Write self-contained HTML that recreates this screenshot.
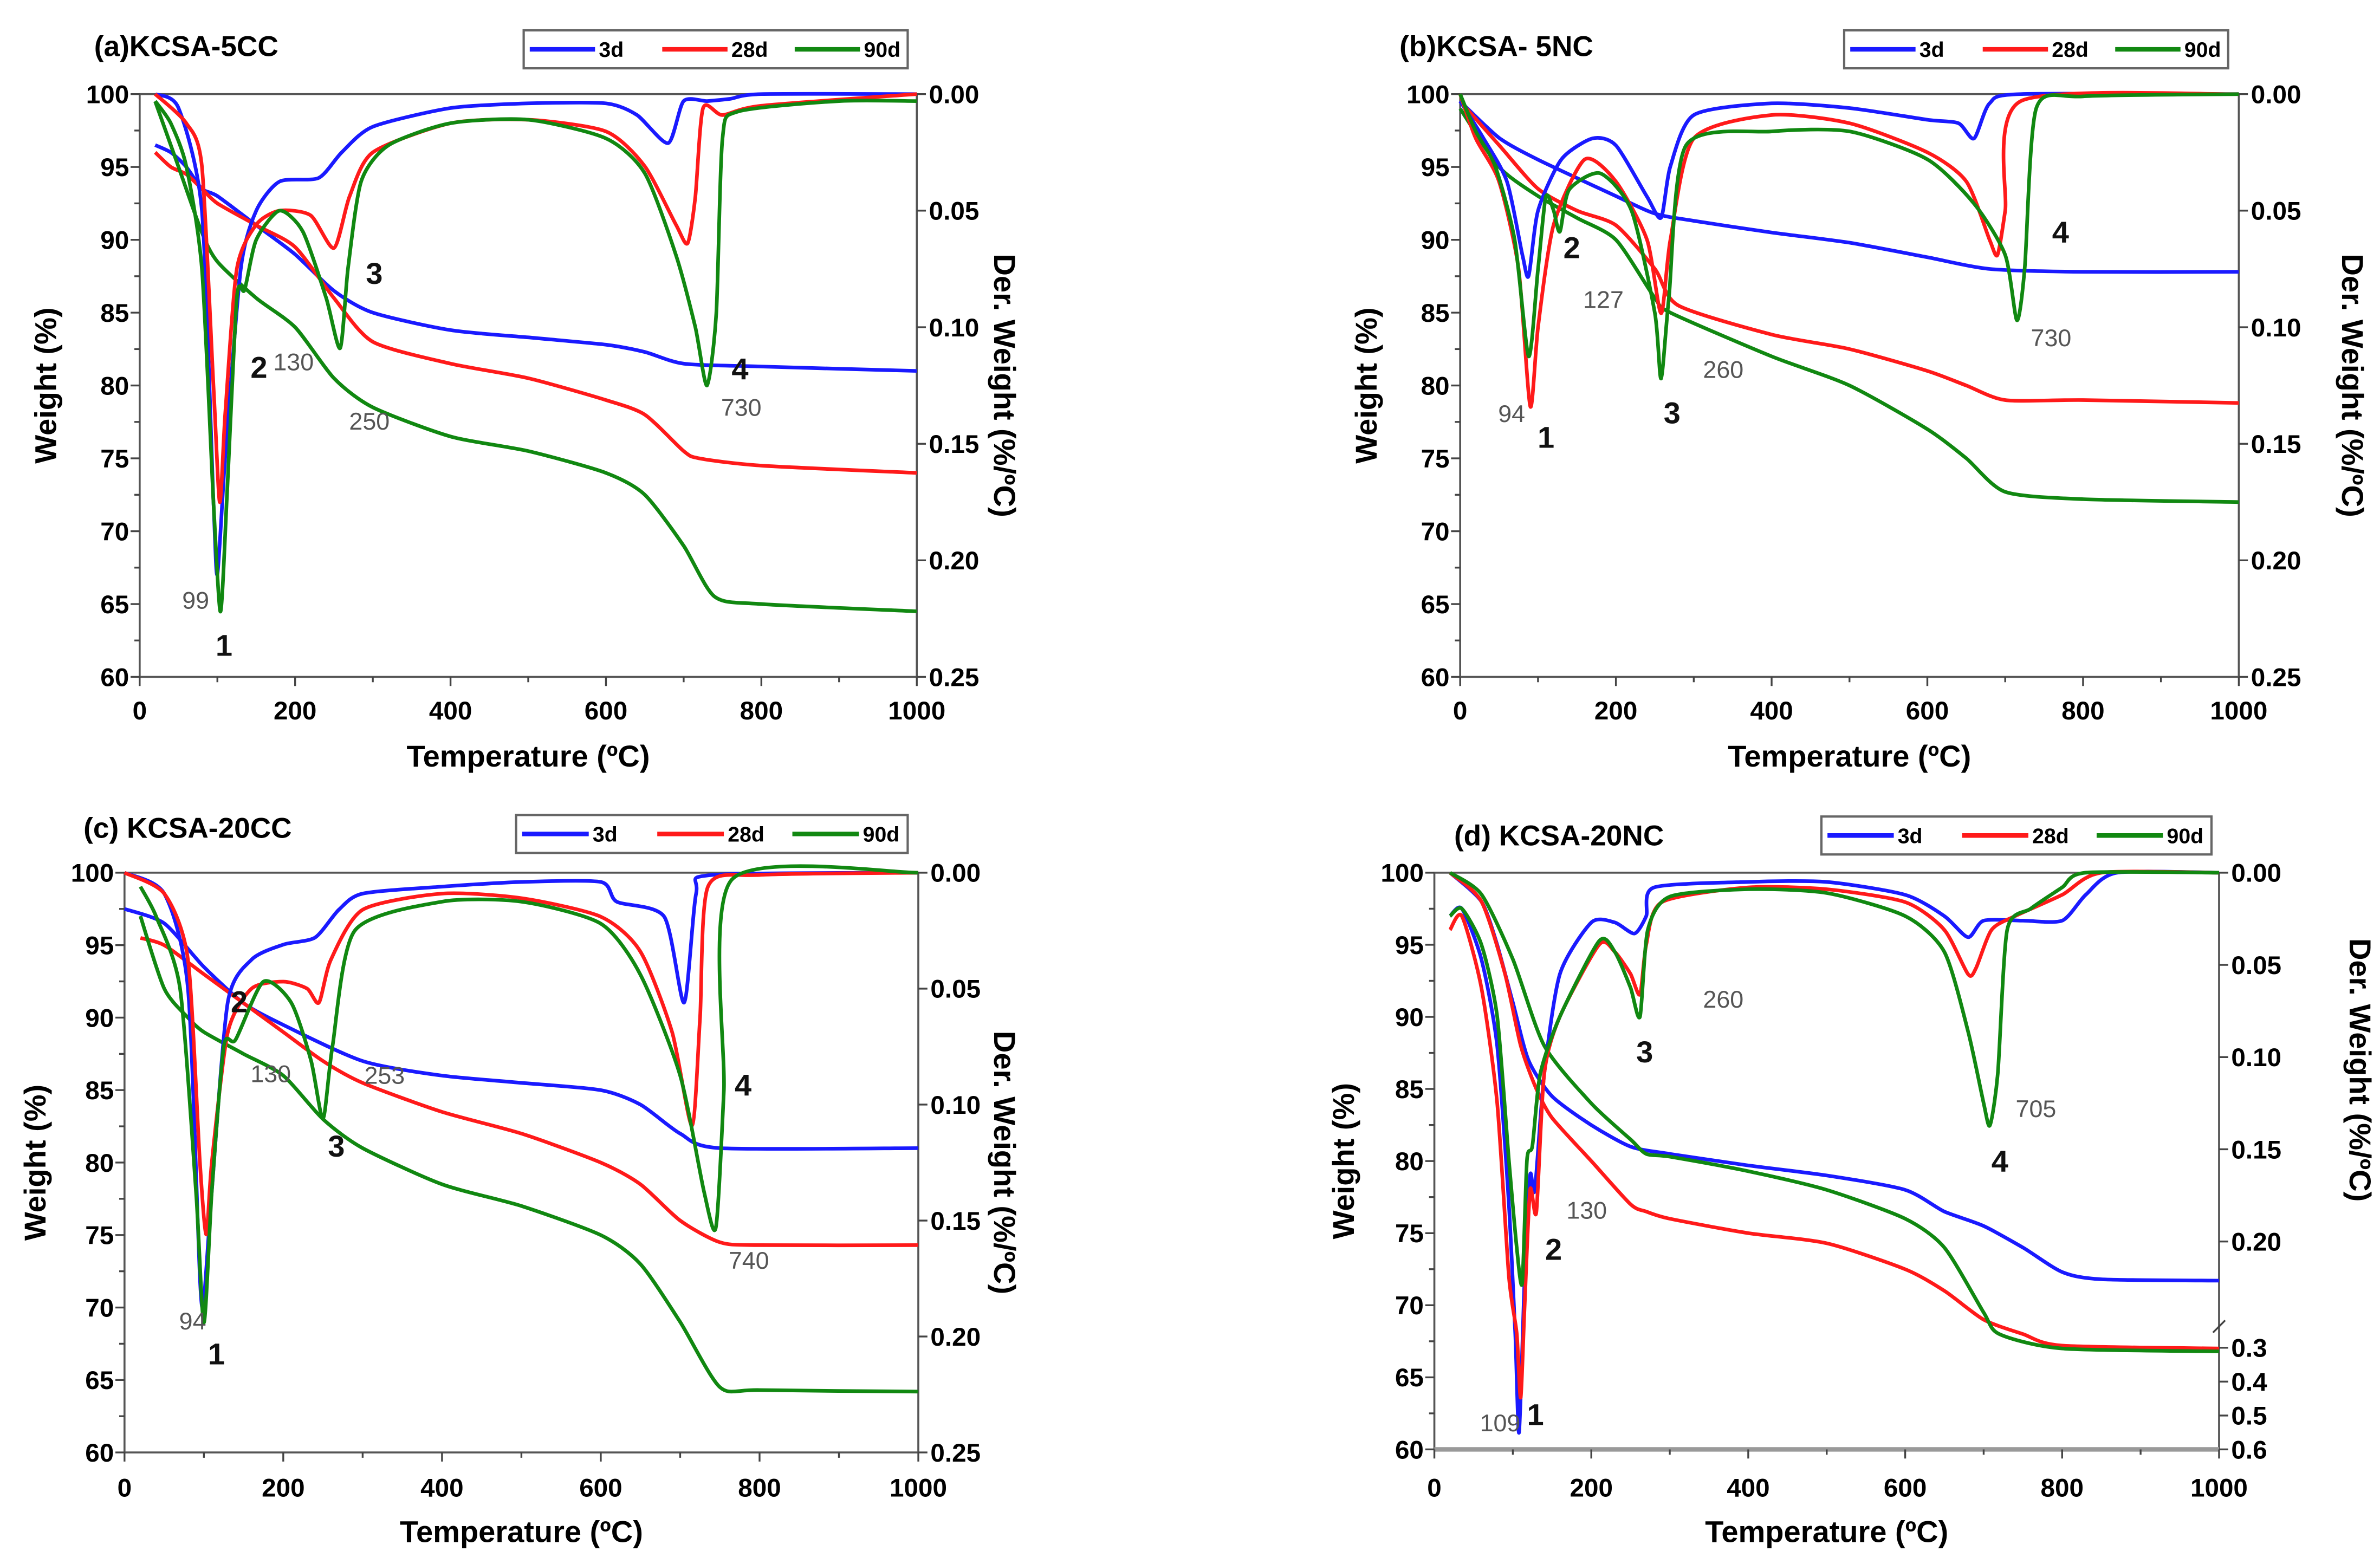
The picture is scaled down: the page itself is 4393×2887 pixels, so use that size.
<!DOCTYPE html>
<html><head><meta charset="utf-8">
<style>
html,body{margin:0;padding:0;background:#fff;}
svg{display:block;}
text{font-family:"Liberation Sans",Arial,sans-serif;}
</style></head>
<body>
<svg id="fig" width="4393" height="2887" viewBox="0 0 1568 1030.5" xmlns="http://www.w3.org/2000/svg"></svg>
<script>
// ---------- DATA (temperature °C, weight %, derivative weight %/°C) ----------
const seriesNames = ["3d","28d","90d"];
// Panel a: KCSA-5CC
const aT_tg3 = [20,40,60,80,100,150,200,250,300,400,500,600,650,700,800,1000];
const aW_tg3 = [96.5,96,95,93.5,93,91,89,86.5,85,83.8,83.3,82.8,82.3,81.5,81.3,81];
const aT_tg28 = [20,40,60,80,100,150,200,250,300,400,500,600,650,700,720,800,1000];
const aW_tg28 = [96,95,94.5,93.5,92.5,91,89.5,86,83,81.5,80.5,79,78,75.5,75,74.5,74];
const aT_tg90 = [20,50,80,100,150,200,250,300,400,500,600,650,700,740,800,1000];
const aW_tg90 = [99.5,95,90.5,88.5,86,84,80.5,78.5,76.5,75.5,74,72.5,69,65.5,65,64.5];
const aT_d3 = [20,50,80,95,100,110,130,150,180,230,260,300,400,500,600,640,680,700,730,760,800,1000];
const aD_d3 = [0,0.006,0.05,0.175,0.206,0.156,0.075,0.05,0.0375,0.036,0.025,0.014,0.006,0.004,0.004,0.009,0.021,0.003,0.003,0.002,0,0];
const aT_d28 = [20,60,80,95,103,110,125,150,180,220,250,270,300,400,500,600,650,690,705,715,725,750,800,1000];
const aD_d28 = [0,0.0125,0.031,0.125,0.175,0.1375,0.075,0.056,0.05,0.052,0.066,0.044,0.025,0.0125,0.011,0.016,0.031,0.056,0.064,0.044,0.006,0.009,0.005,0];
const aT_d90 = [20,40,60,80,95,104,112,125,135,150,180,210,240,258,268,285,320,400,500,600,650,690,715,730,742,750,770,900,1000];
const aD_d90 = [0.003,0.0125,0.031,0.075,0.175,0.222,0.175,0.0875,0.084,0.0625,0.05,0.059,0.0875,0.109,0.075,0.0375,0.022,0.0125,0.011,0.019,0.034,0.069,0.1,0.125,0.094,0.019,0.0075,0.003,0.003];
// Panel b: KCSA-5NC
const bT_tg3 = [0,50,100,200,250,300,400,500,600,680,800,1000];
const bW_tg3 = [99.5,97,95.5,93,91.8,91.3,90.5,89.8,88.8,88,87.8,87.8];
const bT_tg28 = [0,50,100,150,200,250,280,400,500,600,650,700,800,1000];
const bW_tg28 = [99.5,96.5,93.5,92,91,88,85.5,83.5,82.5,81,80,79,79,78.8];
const bT_tg90 = [0,50,100,150,200,250,270,400,500,600,650,700,800,1000];
const bW_tg90 = [99,95,93,91.5,90,86,85,82,80,77,75,72.7,72.2,72];
const bT_d3 = [0,30,60,80,88,100,130,170,200,240,258,270,300,400,500,600,640,660,680,720,1000];
const bD_d3 = [0.003,0.019,0.0375,0.069,0.078,0.05,0.028,0.019,0.022,0.044,0.053,0.031,0.009,0.004,0.006,0.011,0.0125,0.019,0.004,0,0];
const bT_d28 = [0,20,50,75,90,100,120,160,200,240,258,270,300,400,500,600,650,680,690,700,720,1000];
const bD_d28 = [0,0.019,0.0375,0.075,0.134,0.1,0.056,0.028,0.0375,0.0625,0.094,0.0625,0.019,0.009,0.0125,0.025,0.0375,0.0625,0.069,0.05,0.003,0];
const bT_d90 = [0,20,45,70,88,100,110,120,128,140,180,220,250,258,268,290,400,500,600,660,700,715,725,740,800,1000];
const bD_d90 = [0,0.016,0.031,0.0625,0.1125,0.075,0.044,0.05,0.059,0.041,0.034,0.05,0.094,0.122,0.0875,0.022,0.016,0.016,0.028,0.047,0.069,0.097,0.075,0.006,0.001,0];
// Panel c: KCSA-20CC
const cT_tg3 = [0,50,100,150,200,300,400,500,600,650,700,750,1000];
const cW_tg3 = [97.5,96.5,93.5,91,89.5,87,86,85.5,85,84,82,81,81];
const cT_tg28 = [20,50,100,200,250,300,400,500,600,650,700,750,800,1000];
const cW_tg28 = [95.5,95,93,89,87,85.5,83.5,82,80,78.5,76,74.5,74.3,74.3];
const cT_tg90 = [20,50,80,100,150,200,250,300,400,500,600,650,700,750,800,1000];
const cW_tg90 = [97,92,90,89,87.5,86,83,81,78.5,77,75,73,69,64.5,64.3,64.2];
const cT_d3 = [0,50,80,95,100,110,130,160,200,240,270,300,400,500,600,620,680,705,720,740,1000];
const cD_d3 = [0,0.009,0.05,0.175,0.184,0.1375,0.056,0.0375,0.031,0.028,0.016,0.009,0.006,0.004,0.004,0.0125,0.019,0.056,0.009,0.001,0];
const cT_d28 = [0,50,80,95,103,110,130,160,200,230,245,260,300,400,500,600,650,690,715,725,735,800,1000];
const cD_d28 = [0,0.009,0.0375,0.125,0.156,0.125,0.069,0.05,0.047,0.05,0.056,0.0375,0.016,0.009,0.011,0.019,0.034,0.069,0.109,0.0625,0.006,0.001,0];
const cT_d90 = [20,40,70,90,100,110,125,140,175,210,235,250,262,290,400,500,600,650,700,730,745,755,765,1000];
const cD_d90 = [0.006,0.019,0.05,0.1375,0.194,0.1375,0.075,0.072,0.047,0.056,0.081,0.106,0.075,0.025,0.0125,0.0125,0.022,0.044,0.0875,0.1375,0.153,0.094,0.003,0];
// Panel d: KCSA-20NC
const dT_tg3 = [20,60,80,100,120,150,200,250,300,400,500,600,650,700,750,800,850,1000];
const dW_tg3 = [100,98,95,91,87,84.5,82.5,81,80.5,79.7,79,78,76.5,75.5,74,72.3,71.8,71.7];
const dT_tg28 = [20,60,90,110,130,150,200,250,270,300,400,500,600,650,700,750,800,1000];
const dW_tg28 = [100,98,93,88,85,83,80,77,76.5,76,75,74.3,72.5,71,69,68,67.2,67];
const dT_tg90 = [20,60,100,140,200,250,270,300,400,500,600,650,700,720,800,1000];
const dW_tg90 = [100,98.5,94,88,84,81.5,80.5,80.3,79.3,78,76,74,69.5,68,67,66.8];
const dT_d3 = [20,35,60,80,95,103,108,115,122,128,140,160,200,230,255,270,280,400,500,600,650,680,700,750,800,830,870,1000];
const dD_d3 = [0.0235,0.0195,0.047,0.094,0.18,0.287,0.55,0.233,0.164,0.172,0.109,0.055,0.027,0.027,0.033,0.0235,0.008,0.005,0.005,0.012,0.0235,0.035,0.026,0.026,0.026,0.012,0,0];
const dT_d28 = [20,35,60,80,95,105,110,115,122,130,140,160,210,230,250,262,270,290,400,500,600,650,680,690,710,740,800,850,1000];
const dD_d28 = [0.031,0.0235,0.0625,0.125,0.233,0.287,0.447,0.26,0.172,0.184,0.109,0.078,0.039,0.043,0.055,0.066,0.039,0.016,0.008,0.009,0.016,0.031,0.055,0.052,0.031,0.0235,0.012,0,0];
const dT_d90 = [20,35,60,80,95,105,112,118,125,135,160,210,230,250,262,272,300,400,500,600,650,680,700,708,718,730,760,800,830,1000];
const dD_d90 = [0.0235,0.0195,0.039,0.078,0.156,0.206,0.239,0.156,0.148,0.109,0.078,0.037,0.043,0.0625,0.078,0.031,0.013,0.009,0.011,0.0235,0.043,0.086,0.125,0.137,0.109,0.031,0.0195,0.008,0,0];

const xTicks = [0,200,400,600,800,1000];
const yTicks = [60,65,70,75,80,85,90,95,100];
const rTicksStd = ["0.00","0.05","0.10","0.15","0.20","0.25"];
const rTicksD = ["0.00","0.05","0.10","0.15","0.20","0.3","0.4","0.5","0.6"];

// ---------- RENDER ----------
const NS="http://www.w3.org/2000/svg";
const svg=document.getElementById('fig');
const colors=["#1a1aff","#ff1a1a","#118811"];
function mk(tag,attrs,parent){const e=document.createElementNS(NS,tag);for(const k in attrs)e.setAttribute(k,attrs[k]);(parent||svg).appendChild(e);return e;}
function txt(s,x,y,size,opts,parent){const t=mk('text',Object.assign({x:x,y:y,'font-size':size},opts||{}),parent);t.textContent=s;return t;}
function smooth(pts){
  let d='M'+pts[0][0].toFixed(1)+' '+pts[0][1].toFixed(1);
  const k=0.12;
  for(let i=0;i<pts.length-1;i++){
    const p0=pts[Math.max(0,i-1)],p1=pts[i],p2=pts[i+1],p3=pts[Math.min(pts.length-1,i+2)];
    const c1=[p1[0]+(p2[0]-p0[0])*k,p1[1]+(p2[1]-p0[1])*k];
    const c2=[p2[0]-(p3[0]-p1[0])*k,p2[1]-(p3[1]-p1[1])*k];
    d+=` C${c1[0].toFixed(1)} ${c1[1].toFixed(1)} ${c2[0].toFixed(1)} ${c2[1].toFixed(1)} ${p2[0].toFixed(1)} ${p2[1].toFixed(1)}`;
  }
  return d;
}

const panels=[
 {id:'a',title:'(a)KCSA-5CC',x0:92,x1:604,yt:62,yb:446,tx:62,ty:37,leg:[345,598,20,45],ylx:37,rlx:655,xly:505,tly:474,dmode:'std',
  tg:[[aT_tg3,aW_tg3],[aT_tg28,aW_tg28],[aT_tg90,aW_tg90]],dt:[[aT_d3,aD_d3],[aT_d28,aD_d28],[aT_d90,aD_d90]],
  notes:[['99',120,401,0],['1',142,432,1],['2',165,249,1],['130',180,244,0],['3',241,187,1],['250',230,283,0],['4',482,250,1],['730',475,274,0]]},
 {id:'b',title:'(b)KCSA- 5NC',x0:962,x1:1475,yt:62,yb:446,tx:922,ty:37,leg:[1215,1468,20,45],ylx:907,rlx:1543,xly:505,tly:474,dmode:'std',
  tg:[[bT_tg3,bW_tg3],[bT_tg28,bW_tg28],[bT_tg90,bW_tg90]],dt:[[bT_d3,bD_d3],[bT_d28,bD_d28],[bT_d90,bD_d90]],
  notes:[['94',987,278,0],['1',1013,295,1],['2',1030,170,1],['127',1043,203,0],['3',1096,279,1],['260',1122,249,0],['4',1352,160,1],['730',1338,228,0]]},
 {id:'c',title:'(c) KCSA-20CC',x0:82,x1:605,yt:575,yb:957,tx:55,ty:552,leg:[340,598,537,562],ylx:30,rlx:655,xly:1016,tly:986,dmode:'std',
  tg:[[cT_tg3,cW_tg3],[cT_tg28,cW_tg28],[cT_tg90,cW_tg90]],dt:[[cT_d3,cD_d3],[cT_d28,cD_d28],[cT_d90,cD_d90]],
  notes:[['94',118,876,0],['1',137,899,1],['2',152,667,1],['130',165,713,0],['253',240,714,0],['3',216,762,1],['4',484,722,1],['740',480,836,0]]},
 {id:'d',title:'(d) KCSA-20NC',x0:945,x1:1462,yt:575,yb:955,tx:958,ty:557,leg:[1200,1457,538,563],ylx:892,rlx:1548,xly:1016,tly:986,dmode:'d',
  tg:[[dT_tg3,dW_tg3],[dT_tg28,dW_tg28],[dT_tg90,dW_tg90]],dt:[[dT_d3,dD_d3],[dT_d28,dD_d28],[dT_d90,dD_d90]],
  notes:[['260',1122,664,0],['3',1078,700,1],['705',1328,736,0],['4',1312,772,1],['130',1032,803,0],['2',1018,830,1],['109',975,943,0],['1',1006,939,1]]}
];

panels.forEach(p=>{
  const g=mk('g',{});
  
  
  const X=t=>p.x0+(t/1000)*(p.x1-p.x0);
  const Y=w=>p.yb-(w-60)/40*(p.yb-p.yt);
  const D=v=>{
    if(p.dmode==='std') return p.yt+v/0.25*(p.yb-p.yt);
    const k=(p.yb-p.yt)*(818-575)/380;
    const y20=p.yt+k;
    if(v<=0.2) return p.yt+v/0.2*k;
    const y30=p.yt+(888-575)/380*(p.yb-p.yt);
    if(v<=0.3) return y20+(v-0.2)/0.1*(y30-y20);
    return y30+(v-0.3)/0.3*(p.yb-y30);
  };
  const fr=mk('rect',{x:p.x0,y:p.yt,width:p.x1-p.x0,height:p.yb-p.yt,fill:'none',stroke:'#555','stroke-width':1.3},g);
  
  
  if(p.dmode==='d'){
    mk('line',{x1:p.x0,x2:p.x1,y1:p.yb,y2:p.yb,stroke:'#999','stroke-width':3},g);
  }
  for(let t=0;t<=1000;t+=100){
    const len=(t%200===0)?6:3.5;
    mk('line',{x1:X(t),x2:X(t),y1:p.yb,y2:p.yb+len,stroke:'#444','stroke-width':1.2},g);
  }
  xTicks.forEach(t=>{
    const e=txt(String(t),X(t),p.tly,17,{'text-anchor':'middle','font-weight':'bold'},g);
    
    
  });
  for(let w=60;w<=100;w+=2.5){
    const len=(w%5===0)?6:3.5;
    mk('line',{x1:p.x0-len,x2:p.x0,y1:Y(w),y2:Y(w),stroke:'#444','stroke-width':1.2},g);
  }
  yTicks.forEach(w=>{
    const e=txt(String(w),p.x0-7,Y(w)+6,17,{'text-anchor':'end','font-weight':'bold'},g);
    
    
  });
  const rt=p.dmode==='std'?rTicksStd:rTicksD;
  rt.forEach(s=>{
    const v=parseFloat(s);
    mk('line',{x1:p.x1,x2:p.x1+6,y1:D(v),y2:D(v),stroke:'#444','stroke-width':1.2},g);
    const e=txt(s,p.x1+8,D(v)+6,17,{'font-weight':'bold'},g);
    
    
  });
  if(p.dmode==='d'){
    mk('path',{d:`M${p.x1-4} ${D(0.28)+4} L${p.x1+4} ${D(0.28)-4}`,stroke:'#444','stroke-width':1.2},g);
  }
  const xl=txt('Temperature (ºC)',(p.x0+p.x1)/2,p.xly,20,{'text-anchor':'middle','font-weight':'bold'},g);
  
  
  const yl=txt('Weight (%)',0,0,20,{'text-anchor':'middle','font-weight':'bold',transform:`translate(${p.ylx},${(p.yt+p.yb)/2}) rotate(-90)`},g);
  
  
  const rl=txt('Der. Weight (%/ºC)',0,0,20,{'text-anchor':'middle','font-weight':'bold',transform:`translate(${p.rlx},${(p.yt+p.yb)/2+(p.dmode==='d'?-60:0)}) rotate(90)`},g);
  
  
  const ti=txt(p.title,p.tx,p.ty,19,{'font-weight':'bold'},g);
  
  
  p.tg.forEach((s,i)=>{
    const pts=s[0].map((t,j)=>[X(t),Y(s[1][j])]);
    const pa=mk('path',{d:smooth(pts),fill:'none',stroke:colors[i],'stroke-width':2.4,'stroke-linejoin':'round'},g);
    
    
  });
  p.dt.forEach((s,i)=>{
    const pts=s[0].map((t,j)=>[X(t),D(s[1][j])]);
    const pa=mk('path',{d:smooth(pts),fill:'none',stroke:colors[i],'stroke-width':2.4,'stroke-linejoin':'round'},g);
    
    
  });
  p.notes.forEach(n=>{
    const e=txt(n[0],n[1],n[2],n[3]?20:16,n[3]?{'font-weight':'bold','fill':'#111'}:{'fill':'#555'},g);
    
    
  });
  const [lx0,lx1,ly0,ly1]=p.leg;
  const lg=mk('g',{},g);
  
  
  mk('rect',{x:lx0,y:ly0,width:lx1-lx0,height:ly1-ly0,fill:'#fff',stroke:'#666','stroke-width':1.5},lg);
  const w=(lx1-lx0);
  const ym=(ly0+ly1)/2;
  seriesNames.forEach((s,i)=>{
    const sx=lx0+4+i*w*0.345;
    mk('line',{x1:sx,x2:sx+w*0.17,y1:ym,y2:ym,stroke:colors[i],'stroke-width':3},lg);
    const e=txt(s,sx+w*0.18,ym+5,14,{'font-weight':'bold'},lg);
    
    
  });
});
</script>
</body></html>
